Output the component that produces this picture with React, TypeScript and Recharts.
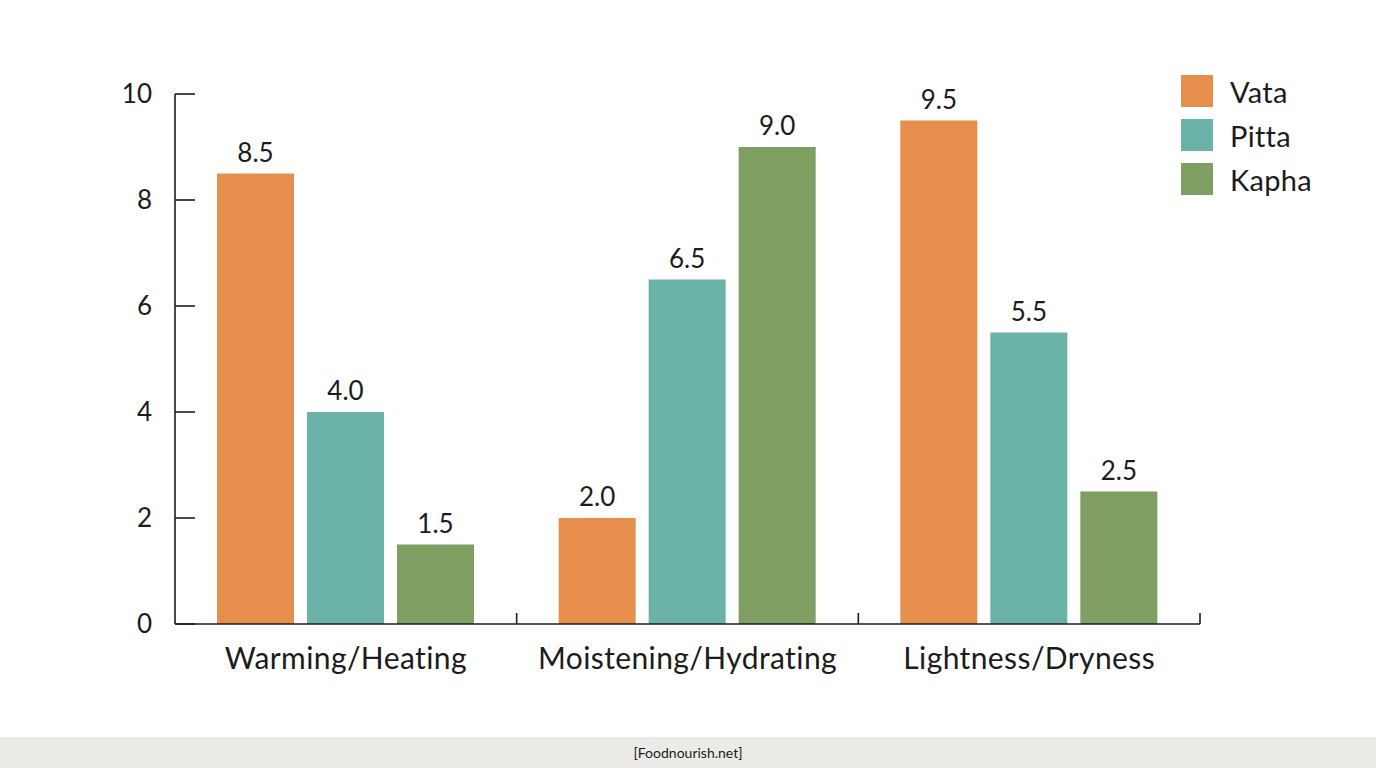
import React from 'react';
import { BarChart, Bar, XAxis, YAxis, LabelList } from 'recharts';

const categories = ['Warming/Heating', 'Moistening/Hydrating', 'Lightness/Dryness'];
const vata = [8.5, 2.0, 9.5];
const pitta = [4.0, 6.5, 5.5];
const kapha = [1.5, 9.0, 2.5];
const yTicks = [0, 2, 4, 6, 8, 10];

const series = [
  { key: 'Vata', color: '#E68F4C' },
  { key: 'Pitta', color: '#6BB3A9' },
  { key: 'Kapha', color: '#7E9E62' },
];

const data = categories.map((name, i) => ({
  name,
  Vata: vata[i],
  Pitta: pitta[i],
  Kapha: kapha[i],
}));

const FONT = 'Lato, "Noto Sans", sans-serif';
const INK = '#1c1c1c';

const YTick = (props: any) => {
  const { x, y, payload } = props;
  return (
    <g>
      <line x1={x} y1={y} x2={x + 20} y2={y} stroke={INK} strokeWidth={1.6} />
      <text x={x - 23} y={y + 2} textAnchor="end" dominantBaseline="middle" fontSize={26} fill={INK} fontFamily={FONT}>
        {payload.value}
      </text>
    </g>
  );
};

// category label plus the small upward tick at the right edge of each band
const CatTick = (props: any) => {
  const { x, y, payload } = props;
  const half = payload.offset || 0;
  return (
    <g>
      <line x1={x + half} y1={y} x2={x + half} y2={y - 11} stroke={INK} strokeWidth={1.6} />
      <text
        x={x}
        y={y + 37}
        textAnchor="middle"
        dominantBaseline="middle"
        fontSize={30}
        letterSpacing={0.4}
        fill={INK}
        fontFamily={FONT}
      >
        {payload.value}
      </text>
    </g>
  );
};

const fmt = (v: any) => Number(v).toFixed(1);

export default function App() {
  return (
    <div style={{ position: 'absolute', left: 0, top: 0, width: 1376, height: 768, background: '#ffffff' }}>
      <BarChart
        width={1376}
        height={737}
        data={data}
        margin={{ top: 94, right: 176, left: 115, bottom: 53 }}
        barSize={77}
        barGap={13}
      >
        <XAxis
          dataKey="name"
          height={60}
          tickLine={false}
          tickSize={0}
          tickMargin={0}
          axisLine={{ stroke: INK, strokeWidth: 1.6 }}
          tick={<CatTick />}
          interval={0}
        />
        <YAxis
          width={60}
          domain={[0, 10]}
          ticks={yTicks}
          tickLine={false}
          tickSize={0}
          tickMargin={0}
          axisLine={{ stroke: INK, strokeWidth: 1.6 }}
          tick={<YTick />}
          interval={0}
        />
        {series.map((s) => (
          <Bar key={s.key} dataKey={s.key} fill={s.color} isAnimationActive={false}>
            <LabelList dataKey={s.key} position="top" offset={12} formatter={fmt} fontSize={26} fill={INK} fontFamily={FONT} />
          </Bar>
        ))}
      </BarChart>
      <div style={{ position: 'absolute', left: 1181, top: 69, fontFamily: FONT }}>
        {series.map((s) => (
          <div key={s.key} style={{ display: 'flex', alignItems: 'center', height: 44 }}>
            <div style={{ width: 32, height: 32, background: s.color, marginRight: 17 }} />
            <span style={{ fontSize: 29, color: INK, letterSpacing: 0.3 }}>{s.key}</span>
          </div>
        ))}
      </div>
      <div
        style={{
          position: 'absolute',
          left: 0,
          top: 737,
          width: 1376,
          height: 31,
          background: '#ECEBE7',
          display: 'flex',
          alignItems: 'center',
          justifyContent: 'center',
          fontFamily: FONT,
          fontSize: 14,
          color: INK,
        }}
      >
        [Foodnourish.net]
      </div>
    </div>
  );
}
